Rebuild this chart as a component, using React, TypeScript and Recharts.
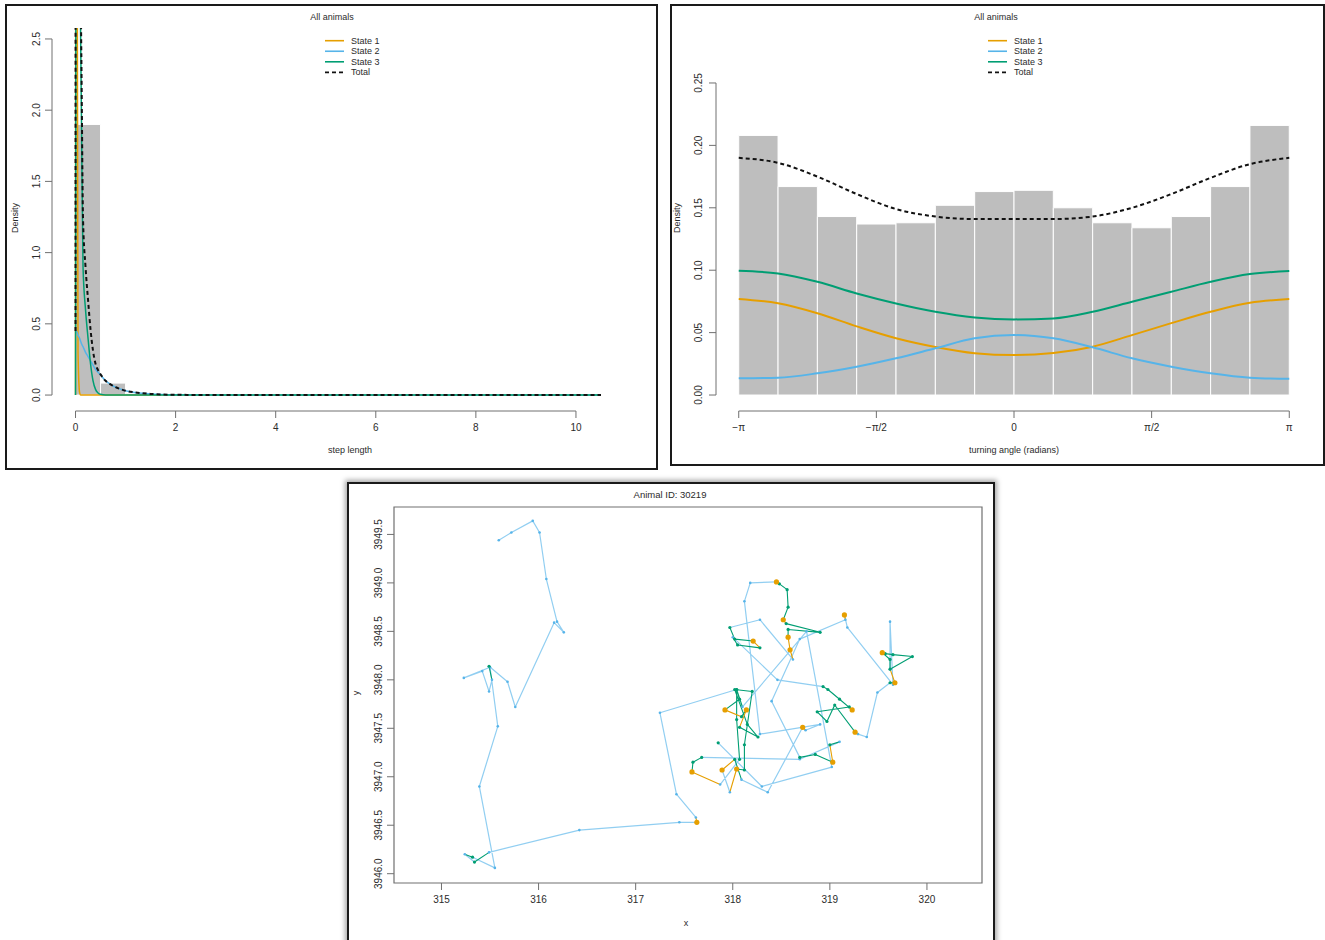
import React from "react"
import {
  ComposedChart,
  Line,
  Scatter,
  XAxis,
  YAxis,
  ReferenceArea,
  ReferenceLine,
} from "recharts"

const FONT = '"Liberation Sans", Arial, Helvetica, sans-serif'
const ORANGE = "#E69F00"
const SKY = "#56B4E9"
const GREEN = "#009E73"
const BAR_FILL = "#bebebe"
const INK = "#2b2b2b"
const AXIS = "#707070"

const legendNames = ["State 1", "State 2", "State 3", "Total"]
const legendColors = [ORANGE, SKY, GREEN, "#111111"]

// step length densities (weighted per state)
const stepX = [0, 0.01, 0.03, 0.05, 0.08, 0.1, 0.12, 0.15, 0.2, 0.25, 0.3, 0.35, 0.4, 0.45, 0.5, 0.6, 0.7, 0.8, 0.9, 1.0, 1.2, 1.5, 2, 3, 4, 6, 8, 10.5]
const stepState1 = [0, 9, 4, 0.3, 0.02, 0, 0, 0, 0, 0, 0, 0, 0, 0, 0, 0, 0, 0, 0, 0, 0, 0, 0, 0, 0, 0, 0, 0]
const stepState2 = [0.45, 0.45, 0.44, 0.42, 0.4, 0.38, 0.36, 0.34, 0.3, 0.27, 0.24, 0.21, 0.18, 0.16, 0.14, 0.1, 0.075, 0.055, 0.042, 0.03, 0.018, 0.008, 0.002, 0, 0, 0, 0, 0]
const stepState3 = [0, 5, 6, 5, 3.5, 2.6, 1.9, 0.9, 0.6, 0.4, 0.22, 0.1, 0.04, 0.015, 0.005, 0, 0, 0, 0, 0, 0, 0, 0, 0, 0, 0, 0, 0]
const stepTotal = [0.45, 14.4, 10.4, 5.7, 3.9, 3.0, 2.26, 1.24, 0.9, 0.67, 0.46, 0.31, 0.22, 0.175, 0.145, 0.1, 0.075, 0.055, 0.042, 0.03, 0.018, 0.008, 0.002, 0, 0, 0, 0, 0]
const stepBreaks = [0, 0.5, 1, 1.5, 2]
const stepHist = [1.9, 0.084, 0.012, 0.003]
const stepXTicks = [0, 2, 4, 6, 8, 10]
const stepYTicks = [0, 0.5, 1, 1.5, 2, 2.5]

// turning angle densities
const angleX = [-3.1416, -2.6928, -2.244, -1.7952, -1.3464, -0.8976, -0.4488, 0, 0.4488, 0.8976, 1.3464, 1.7952, 2.244, 2.6928, 3.1416]
const angleState1 = [0.077, 0.0735, 0.0655, 0.055, 0.0455, 0.0385, 0.0335, 0.032, 0.0336, 0.0387, 0.048, 0.0576, 0.0667, 0.0739, 0.0769]
const angleState2 = [0.0134, 0.0139, 0.0174, 0.0227, 0.0294, 0.0374, 0.0454, 0.048, 0.0454, 0.0382, 0.0294, 0.0227, 0.0174, 0.0139, 0.013]
const angleState3 = [0.0995, 0.0974, 0.0907, 0.0814, 0.0734, 0.0667, 0.0622, 0.0606, 0.0614, 0.0667, 0.0747, 0.0827, 0.0907, 0.0969, 0.0993]
const angleTotal = [0.19, 0.186, 0.175, 0.161, 0.149, 0.143, 0.141, 0.141, 0.141, 0.143, 0.15, 0.161, 0.174, 0.185, 0.19]
const angleHist = [0.208, 0.167, 0.143, 0.137, 0.138, 0.152, 0.163, 0.164, 0.15, 0.138, 0.134, 0.143, 0.167, 0.216]
const angleTicks = [-Math.PI, -Math.PI / 2, 0, Math.PI / 2, Math.PI]
const angleTickLabels = ["\u2212\u03c0", "\u2212\u03c0/2", "0", "\u03c0/2", "\u03c0"]
const angleYTicks = [0, 0.05, 0.1, 0.15, 0.2, 0.25]

// track of animal 30219 (x, y in km), state per location
const trackX = [
  315.59, 315.72, 315.94, 316.01, 316.08, 316.19, 316.26, 316.16, 315.76, 315.68,
  315.49, 315.52, 315.49, 315.42, 315.23, 315.5, 315.58, 315.39, 315.55, 315.32,
  315.24, 315.34, 315.49, 316.42, 317.45, 317.63, 317.62, 317.42, 317.25, 318.04,
  318.07, 317.92, 318.09, 318.14, 318.07, 318.26, 318.15, 318.02, 318.2, 318.12,
  318.12, 318.04, 317.97, 317.89, 318.02, 318.09, 318.36, 318.72, 318.75, 318.9,
  318.28, 318.12, 318.18, 318.45, 318.48, 318.56, 318.57, 318.52, 318.55, 318.9,
  318.57, 318.57, 318.59, 318.62, 318.28, 317.97, 318.02, 318.21, 318.28, 318.05,
  318.0, 318.46, 318.93, 318.98, 319.1, 319.23, 319.2, 318.87, 318.97, 319.05,
  319.26, 319.29, 319.38, 319.49, 319.62, 319.67, 319.62, 319.62, 319.54, 319.57,
  319.65, 319.85, 319.62, 319.62, 319.65, 319.18, 319.15, 319.16, 318.69, 318.4,
  318.69, 318.85, 319.03, 319.0, 319.1, 318.69, 317.68, 317.59, 317.58, 317.87,
  318.07, 318.04, 318.04, 318.1, 318.76, 319.02, 318.3, 317.85,
]
const trackY = [
  3949.44, 3949.52, 3949.64, 3949.52, 3949.04, 3948.6, 3948.49, 3948.59, 3947.72, 3947.98,
  3948.14, 3948.0, 3947.88, 3948.09, 3948.02, 3948.13, 3947.52, 3946.9, 3946.06, 3946.17,
  3946.2, 3946.12, 3946.22, 3946.45, 3946.53, 3946.53, 3946.58, 3946.82, 3947.66, 3947.9,
  3947.8, 3947.69, 3947.62, 3947.69, 3947.51, 3947.41, 3947.54, 3947.9, 3947.88, 3947.33,
  3947.07, 3947.08, 3946.84, 3947.07, 3947.18, 3946.97, 3946.84, 3947.51, 3947.48, 3947.54,
  3947.44, 3948.81, 3949.0, 3949.01, 3948.99, 3948.93, 3948.75, 3948.62, 3948.58, 3948.49,
  3948.52, 3948.44, 3948.31, 3948.21, 3948.62, 3948.54, 3948.42, 3948.4, 3948.33, 3948.36,
  3948.44, 3948.0, 3947.93, 3947.9, 3947.8, 3947.69, 3947.72, 3947.67, 3947.57, 3947.74,
  3947.46, 3947.44, 3947.41, 3947.87, 3947.97, 3947.97, 3948.11, 3948.21, 3948.28, 3948.27,
  3948.26, 3948.24, 3948.11, 3948.6, 3947.95, 3948.54, 3948.67, 3948.62, 3948.42, 3947.78,
  3947.2, 3947.23, 3947.15, 3947.33, 3947.36, 3947.18, 3947.2, 3947.15, 3947.05, 3946.92,
  3947.18, 3947.59, 3947.9, 3947.72, 3948.5, 3947.1, 3946.9, 3947.35,
]
const trackState = [
  2, 2, 2, 2, 2, 2, 2, 2, 2, 2,
  3, 2, 2, 2, 2, 2, 2, 2, 2, 3,
  2, 3, 2, 2, 2, 1, 2, 2, 2, 3,
  3, 1, 3, 1, 3, 3, 3, 3, 3, 3,
  3, 1, 2, 1, 3, 2, 2, 1, 2, 2,
  2, 2, 2, 1, 3, 3, 3, 1, 3, 3,
  3, 1, 1, 2, 2, 3, 3, 1, 3, 3,
  2, 2, 3, 3, 3, 1, 3, 3, 3, 3,
  1, 2, 2, 2, 3, 1, 3, 3, 1, 3,
  3, 3, 2, 2, 2, 2, 1, 2, 2, 2,
  3, 3, 1, 3, 2, 2, 3, 3, 1, 2,
  3, 3, 3, 2, 2, 2, 2, 3,
]
const trackXTicks = [315, 316, 317, 318, 319, 320]
const trackYTicks = [3946, 3946.5, 3947, 3947.5, 3948, 3948.5, 3949, 3949.5]

function trackSegments(state: number) {
  const out: { x: number; y: number | null }[] = []
  for (let i = 0; i < trackX.length - 1; i++) {
    if (trackState[i] !== state) continue
    out.push({ x: trackX[i], y: trackY[i] })
    out.push({ x: trackX[i + 1], y: trackY[i + 1] })
    out.push({ x: trackX[i + 1], y: null })
  }
  return out
}

function trackPoints(state: number) {
  return trackX
    .map((x, i) => ({ x, y: trackY[i], s: trackState[i] }))
    .filter((p) => p.s === state)
}

function RotTick(props: any) {
  const { x, y, payload, digits } = props
  return (
    <text
      x={x}
      y={y}
      transform={`rotate(-90 ${x} ${y})`}
      textAnchor="middle"
      fontSize={10}
      fill={INK}
      fontFamily={FONT}
    >
      {Number(payload.value).toFixed(digits)}
    </text>
  )
}

function Txt({ x, y, text, size = 9, vertical = false }: any) {
  return (
    <div
      style={{
        position: "absolute",
        left: x,
        top: y,
        transform: `translate(-50%, -50%)${vertical ? " rotate(-90deg)" : ""}`,
        fontFamily: FONT,
        fontSize: size,
        color: INK,
        whiteSpace: "nowrap",
        lineHeight: 1,
      }}
    >
      {text}
    </div>
  )
}

function StateLegend({ x, y }: { x: number; y: number }) {
  return (
    <svg style={{ position: "absolute", left: x, top: y }} width={80} height={46}>
      {legendNames.map((name, i) => (
        <g key={name}>
          <line
            x1={2}
            x2={21}
            y1={5.7 + i * 10.55}
            y2={5.7 + i * 10.55}
            stroke={legendColors[i]}
            strokeWidth={1.6}
            strokeDasharray={i === 3 ? "4 3" : undefined}
          />
          <text x={28} y={5.7 + i * 10.55} dominantBaseline="central" fontSize={9} fill={INK} fontFamily={FONT}>
            {name}
          </text>
        </g>
      ))}
    </svg>
  )
}

const tickText = { fontSize: 10, fill: INK, fontFamily: FONT }

function StepChart() {
  const rows = stepX.map((x, i) => ({
    x,
    s1: stepState1[i],
    s2: stepState2[i],
    s3: stepState3[i],
    total: stepTotal[i],
  }))
  return (
    <ComposedChart
      width={649}
      height={462}
      data={rows}
      margin={{ top: 22, right: 30, bottom: 27, left: 15 }}
      style={{ fontFamily: FONT }}
    >
      {stepHist.map((d, i) => (
        <ReferenceArea
          key={i}
          x1={stepBreaks[i]}
          x2={stepBreaks[i + 1]}
          y1={0}
          y2={d}
          fill={BAR_FILL}
          fillOpacity={1}
          stroke="#ffffff"
          strokeWidth={1}
        />
      ))}
      <XAxis
        type="number"
        dataKey="x"
        domain={[-0.47, 11]}
        allowDataOverflow
        ticks={stepXTicks}
        interval={0}
        height={30}
        tickSize={7}
        tickMargin={6}
        axisLine={false}
        tickLine={{ stroke: AXIS }}
        tick={tickText}
      />
      <YAxis
        type="number"
        domain={[-0.112, 2.577]}
        allowDataOverflow
        ticks={stepYTicks}
        interval={0}
        width={30}
        tickSize={7}
        tickMargin={5}
        axisLine={false}
        tickLine={{ stroke: AXIS }}
        tick={(p: any) => <RotTick {...p} digits={1} />}
      />
      <ReferenceLine segment={[{ x: 0, y: -0.112 }, { x: 10, y: -0.112 }]} stroke={AXIS} ifOverflow="visible" />
      <ReferenceLine segment={[{ x: -0.47, y: 0 }, { x: -0.47, y: 2.5 }]} stroke={AXIS} ifOverflow="visible" />
      <Line type="monotone" dataKey="s1" stroke={ORANGE} strokeWidth={1.5} dot={false} activeDot={false} isAnimationActive={false} />
      <Line type="monotone" dataKey="s2" stroke={SKY} strokeWidth={1.5} dot={false} activeDot={false} isAnimationActive={false} />
      <Line type="monotone" dataKey="s3" stroke={GREEN} strokeWidth={1.5} dot={false} activeDot={false} isAnimationActive={false} />
      <Line type="monotone" dataKey="total" stroke="#111" strokeWidth={2} strokeDasharray="4 3" dot={false} activeDot={false} isAnimationActive={false} />
    </ComposedChart>
  )
}

function AngleChart() {
  const rows = angleX.map((x, i) => ({
    x,
    s1: angleState1[i],
    s2: angleState2[i],
    s3: angleState3[i],
    total: angleTotal[i],
  }))
  return (
    <ComposedChart
      width={651}
      height={458}
      data={rows}
      margin={{ top: 61, right: 11, bottom: 23, left: 14 }}
      style={{ fontFamily: FONT }}
    >
      {angleHist.map((d, i) => (
        <ReferenceArea
          key={i}
          x1={angleX[i]}
          x2={angleX[i + 1]}
          y1={0}
          y2={d}
          fill={BAR_FILL}
          fillOpacity={1}
          stroke="#ffffff"
          strokeWidth={1}
        />
      ))}
      <XAxis
        type="number"
        dataKey="x"
        domain={[-3.401, 3.401]}
        allowDataOverflow
        ticks={angleTicks}
        interval={0}
        height={30}
        tickSize={7}
        tickMargin={6}
        axisLine={false}
        tickLine={{ stroke: AXIS }}
        tick={tickText}
        tickFormatter={(_v: number, i: number) => angleTickLabels[i]}
      />
      <YAxis
        type="number"
        domain={[-0.0128, 0.2628]}
        allowDataOverflow
        ticks={angleYTicks}
        interval={0}
        width={30}
        tickSize={7}
        tickMargin={7}
        axisLine={false}
        tickLine={{ stroke: AXIS }}
        tick={(p: any) => <RotTick {...p} digits={2} />}
      />
      <ReferenceLine segment={[{ x: -Math.PI, y: -0.0128 }, { x: Math.PI, y: -0.0128 }]} stroke={AXIS} ifOverflow="visible" />
      <ReferenceLine segment={[{ x: -3.401, y: 0 }, { x: -3.401, y: 0.25 }]} stroke={AXIS} ifOverflow="visible" />
      <Line type="monotone" dataKey="s3" stroke={GREEN} strokeWidth={2} dot={false} activeDot={false} isAnimationActive={false} />
      <Line type="monotone" dataKey="s1" stroke={ORANGE} strokeWidth={2} dot={false} activeDot={false} isAnimationActive={false} />
      <Line type="monotone" dataKey="s2" stroke={SKY} strokeWidth={2} dot={false} activeDot={false} isAnimationActive={false} />
      <Line type="monotone" dataKey="total" stroke="#111" strokeWidth={2} strokeDasharray="4 3" dot={false} activeDot={false} isAnimationActive={false} />
    </ComposedChart>
  )
}

const dotShape = (color: string, r: number) => (p: any) =>
  <circle cx={p.cx} cy={p.cy} r={r} fill={color} />

function TrackChart() {
  const xMin = 314.511
  const xMax = 320.567
  const yMin = 3945.904
  const yMax = 3949.783
  return (
    <ComposedChart
      width={644}
      height={464}
      margin={{ top: 23, right: 11, bottom: 35, left: 15 }}
      style={{ fontFamily: FONT }}
    >
      <XAxis
        type="number"
        dataKey="x"
        domain={[xMin, xMax]}
        allowDataOverflow
        ticks={trackXTicks}
        interval={0}
        height={30}
        tickSize={7}
        tickMargin={6}
        axisLine={false}
        tickLine={{ stroke: AXIS }}
        tick={tickText}
      />
      <YAxis
        type="number"
        dataKey="y"
        domain={[yMin, yMax]}
        allowDataOverflow
        ticks={trackYTicks}
        interval={0}
        width={30}
        tickSize={7}
        tickMargin={5}
        axisLine={false}
        tickLine={{ stroke: AXIS }}
        tick={(p: any) => <RotTick {...p} digits={1} />}
      />
      <ReferenceArea x1={xMin} x2={xMax} y1={yMin} y2={yMax} fill="none" stroke={AXIS} strokeWidth={1.2} ifOverflow="visible" />
      <Line data={trackSegments(2)} dataKey="y" type="linear" stroke={SKY} strokeOpacity={0.65} strokeWidth={1.2} dot={false} activeDot={false} connectNulls={false} isAnimationActive={false} />
      <Line data={trackSegments(3)} dataKey="y" type="linear" stroke={GREEN} strokeWidth={1.1} dot={false} activeDot={false} connectNulls={false} isAnimationActive={false} />
      <Line data={trackSegments(1)} dataKey="y" type="linear" stroke={ORANGE} strokeWidth={1.1} dot={false} activeDot={false} connectNulls={false} isAnimationActive={false} />
      <Scatter data={trackPoints(2)} fill={SKY} shape={dotShape(SKY, 1.3)} isAnimationActive={false} />
      <Scatter data={trackPoints(3)} fill={GREEN} shape={dotShape(GREEN, 1.6)} isAnimationActive={false} />
      <Scatter data={trackPoints(1)} fill={ORANGE} shape={dotShape(ORANGE, 2.6)} isAnimationActive={false} />
    </ComposedChart>
  )
}

const panel = (left: number, top: number, width: number, height: number, extra = {}) => ({
  position: "absolute" as const,
  left,
  top,
  width,
  height,
  boxSizing: "border-box" as const,
  border: "2px solid #1a1a1a",
  background: "#ffffff",
  ...extra,
})

export default function App() {
  return (
    <div
      style={{
        position: "absolute",
        left: 0,
        top: 0,
        width: 1325,
        height: 940,
        overflow: "hidden",
        background: "#ffffff",
        fontFamily: FONT,
      }}
    >
      <div style={panel(5, 4, 653, 466)}>
        <StepChart />
      </div>
      <div style={panel(670, 4, 655, 462)}>
        <AngleChart />
      </div>
      <div style={panel(347, 482, 648, 468, { boxShadow: "0 0 5px 2px rgba(0,0,0,0.35)" })}>
        <TrackChart />
      </div>

      <Txt x={332} y={16.5} text="All animals" />
      <Txt x={350} y={450} text="step length" />
      <Txt x={15} y={218} text="Density" vertical />
      <StateLegend x={323} y={35} />

      <Txt x={996} y={16.5} text="All animals" />
      <Txt x={1014} y={450} text="turning angle (radians)" />
      <Txt x={677} y={218} text="Density" vertical />
      <StateLegend x={986} y={35} />

      <Txt x={670} y={494.5} text="Animal ID: 30219" size={9.5} />
      <Txt x={686} y={923} text="x" />
      <Txt x={356} y={693} text="y" vertical />
    </div>
  )
}
